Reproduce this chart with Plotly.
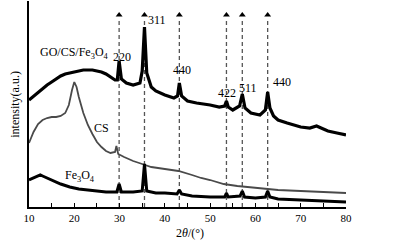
import plotly.graph_objects as go

# GO/CS/Fe3O4
go_x = [10, 11, 12, 13, 14, 15, 16, 17, 18, 19, 20, 21, 22, 23, 24, 25, 26, 27, 28, 29, 29.5, 29.9, 30.4, 31.5, 33,
        34.5, 35.0, 35.5, 36.0, 37, 38, 40, 42, 42.8, 43.2, 43.7, 45, 47, 50, 52, 53.2, 53.6, 54.0, 55, 56.5, 57.1,
        57.7, 59, 61, 62.2, 62.7, 63.2, 64, 65, 67, 70, 72, 73.5, 74.5, 76, 78, 80]
go_y = [107, 111, 115, 118, 122, 125, 128, 131, 133, 134, 135, 136, 137, 137, 137, 136, 135, 133, 130, 127, 127, 146,
        128, 124, 122, 124, 136, 180, 134, 120, 116, 112, 109, 111, 124, 111, 106, 104, 102, 100, 101, 106, 100, 97,
        101, 113, 99, 94, 92, 97, 115, 99, 91, 87, 84, 80, 79, 81, 79, 76, 74, 72]

# CS
cs_x = [10, 11, 12, 13, 14, 15, 16, 17, 18, 18.8, 19.5, 20, 20.5, 21, 22, 23, 24, 25, 26, 27, 28, 29, 29.3, 29.7, 31,
        33, 35, 37, 40, 43, 46, 48, 50, 53, 56, 60, 65, 70, 75, 80]
cs_y = [64, 75, 83, 87, 89, 90, 90, 91, 94, 102, 117, 125, 120, 110, 94, 82, 73, 65, 60, 56, 54, 55, 61, 53, 50,
        46, 43, 40, 38, 36, 32, 29, 27, 23, 21, 19, 17, 16, 15, 14]

# Fe3O4
fe_x = [10, 11, 12, 12.5, 13, 14, 15, 17, 19, 21, 23, 25, 27, 29.4, 29.9, 30.4, 33, 35.0, 35.5, 36.0, 38, 40, 42.7,
        43.2, 43.7, 46, 50, 53.2, 53.6, 54, 56.6, 57.1, 57.6, 60, 62.2, 62.7, 63.2, 65, 70, 75, 80]
fe_y = [27, 29, 31, 32, 31, 29, 27, 23, 20, 18, 17, 16, 15, 15, 23, 15, 15, 16, 43, 16, 14, 14, 13, 17, 13, 11, 10,
        10, 14, 10, 11, 16, 10, 9, 10, 16, 10, 8, 7, 6, 5]

peak_pos = [29.9, 35.5, 43.2, 53.6, 57.1, 62.7]

labels = ["GO/CS/Fe<sub>3</sub>O<sub>4</sub>", "220", "311", "440", "422", "511", "440", "CS", "Fe<sub>3</sub>O<sub>4</sub>"]
label_x = [20.15, 30.5, 38.3, 43.8, 53.7, 58.3, 65.85, 25.9, 21.3]
label_y = [154, 150, 187, 137, 114, 119, 125, 79, 31]

x_ticks = [10, 20, 30, 40, 50, 60, 70, 80]

FONT = "Liberation Serif, Times New Roman, serif"

fig = go.Figure()

for xv in peak_pos:
    fig.add_trace(go.Scatter(x=[xv, xv], y=[0, 189], mode="lines",
                             line=dict(color="#555555", width=1.3, dash="4px,3px"),
                             showlegend=False, hoverinfo="skip"))

fig.add_trace(go.Scatter(x=go_x, y=go_y, mode="lines", line=dict(color="black", width=3.2),
                         showlegend=False))
fig.add_trace(go.Scatter(x=cs_x, y=cs_y, mode="lines", line=dict(color="#4a4a4a", width=1.8),
                         showlegend=False))
fig.add_trace(go.Scatter(x=fe_x, y=fe_y, mode="lines", line=dict(color="black", width=3),
                         showlegend=False))

# arrow heads on top of the dashed guide lines
fig.add_trace(go.Scatter(x=peak_pos, y=[192] * len(peak_pos), mode="markers",
                         marker=dict(symbol="triangle-up", size=6, color="black"),
                         showlegend=False, hoverinfo="skip"))

annotations = []
for t, lx, ly in zip(labels, label_x, label_y):
    annotations.append(dict(x=lx, y=ly, xref="x", yref="y", text=t, showarrow=False,
                            font=dict(family=FONT, size=12, color="black")))
annotations.append(dict(x=45.5, y=-0.125, xref="x", yref="paper", text="2<i>θ</i>/(°)", showarrow=False,
                        font=dict(family=FONT, size=12, color="black"), yanchor="middle"))
annotations.append(dict(x=-0.045, y=0.5, xref="paper", yref="paper", text="intensity(a.u.)", showarrow=False,
                        textangle=-90, font=dict(family=FONT, size=12, color="black"), xanchor="center"))

fig.update_layout(
    width=394, height=244,
    margin=dict(l=29, r=48, t=1, b=37),
    paper_bgcolor="white", plot_bgcolor="white",
    font=dict(family=FONT, size=11, color="black"),
    annotations=annotations,
    xaxis=dict(range=[10, 80], tickvals=x_ticks, ticks="inside", ticklen=4, tickcolor="black",
               showline=True, linecolor="black", linewidth=1.5, showgrid=False, zeroline=False,
               tickfont=dict(family=FONT, size=11, color="black"),
               minor=dict(dtick=5, ticks="inside", ticklen=4, tickcolor="black")),
    yaxis=dict(range=[0, 206], showticklabels=False, ticks="", showline=True, linecolor="black",
               linewidth=1.5, showgrid=False, zeroline=False),
)

fig.write_html("out.html", config={"displayModeBar": False},
               post_script="document.body.style.margin='0';")
